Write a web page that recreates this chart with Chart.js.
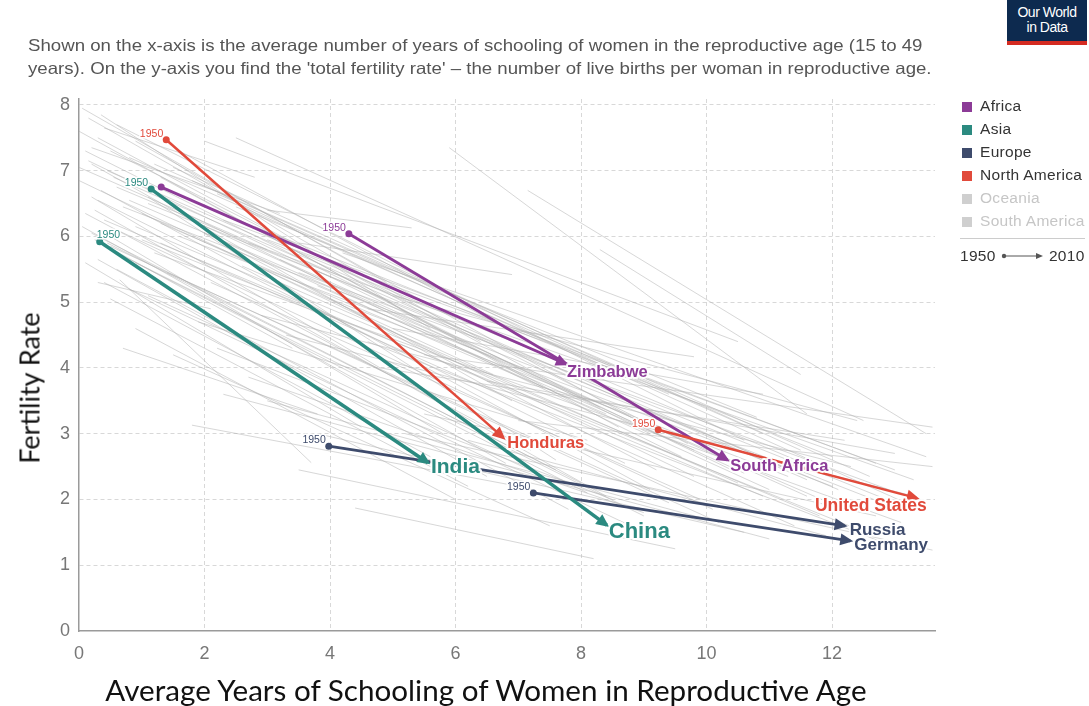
<!DOCTYPE html>
<html>
<head>
<meta charset="utf-8">
<script src="https://cdn.jsdelivr.net/npm/chart.js@4.4.1/dist/chart.umd.min.js"></script>
<style>
  body { margin: 0; background: #fff; font-family: 'Liberation Sans', Arial, sans-serif; }
  #page { position: relative; width: 1089px; height: 706px; overflow: hidden; }
  #chartBox { position: absolute; left: 0; top: 0; width: 1089px; height: 706px; }
  .subtitle { position: absolute; left: 28px; top: 34px; font-size: 16.5px; line-height: 23px; color: #555; white-space: nowrap; transform: scaleX(1.13); transform-origin: left top; }
  .ytitle { position: absolute; left: 29px; top: 388px; transform: translate(-50%, -50%) rotate(-90deg); font-family: Lato, sans-serif; font-size: 27px; color: #111; white-space: nowrap; }
  .xtitle { position: absolute; left: 486px; top: 690px; transform: translate(-50%, -50%) scaleX(1.058); font-family: Lato, sans-serif; font-size: 28px; color: #111; white-space: nowrap; }
  .legend { position: absolute; left: 960px; top: 96px; font-size: 15.5px; color: #333; letter-spacing: 0.3px; }
  .legend .li { height: 23px; line-height: 20px; white-space: nowrap; }
  .legend .sw { display: inline-block; width: 10px; height: 10px; margin: 0 8px 0 2px; vertical-align: -1px; }
  .legend .off { color: #c6c6c6; }
  .legend .sep { width: 125px; border-top: 1px solid #ccc; margin: 4px 0 8px 0; }
  .legend .time { font-size: 15.5px; color: #333; white-space: nowrap; }
  .logo { position: absolute; left: 1007px; top: 0; width: 80px; height: 36px; background: #0d2a4f; border-bottom: 4px solid #d42b21; color: #fff; font-size: 14px; line-height: 15px; text-align: center; padding-top: 5px; letter-spacing: -0.5px; }
</style>
</head>
<body>
<div id="page">
  <div id="chartBox"><canvas id="chart" width="1089" height="706"></canvas></div>
  <div class="subtitle">Shown on the x-axis is the average number of years of schooling of women in the reproductive age (15 to 49<br>years). On the y-axis you find the 'total fertility rate' – the number of live births per woman in reproductive age.</div>
  <div class="ytitle">Fertility Rate</div>
  <div class="xtitle">Average Years of Schooling of Women in Reproductive Age</div>
  <div class="logo">Our World<br>in Data</div>
  <div class="legend">
    <div class="li"><span class="sw" style="background:#8c3b97"></span>Africa</div>
    <div class="li"><span class="sw" style="background:#2b8a80"></span>Asia</div>
    <div class="li"><span class="sw" style="background:#3e4b6c"></span>Europe</div>
    <div class="li"><span class="sw" style="background:#e14a3b"></span>North America</div>
    <div class="li off"><span class="sw" style="background:#cfcfcf"></span>Oceania</div>
    <div class="li off"><span class="sw" style="background:#cfcfcf"></span>South America</div>
    <div class="sep"></div>
    <div class="time">1950 <svg width="44" height="10" style="vertical-align:0px"><circle cx="4" cy="5" r="2.2" fill="#555"/><line x1="4" y1="5" x2="37" y2="5" stroke="#555" stroke-width="1"/><polygon points="36,2 43,5 36,8" fill="#555"/></svg> 2010</div>
  </div>
</div>
<script>
// highlighted countries: 1950 start -> 2010 end
const countries = ['Honduras', 'United States', 'Zimbabwe', 'South Africa', 'India', 'China', 'Russia', 'Germany'];
const regions = ['North America', 'North America', 'Africa', 'Africa', 'Asia', 'Asia', 'Europe', 'Europe'];
const school1950 = [1.39, 9.23, 1.31, 4.30, 0.33, 1.15, 3.98, 7.24];
const fert1950 = [7.47, 3.06, 6.75, 6.04, 5.92, 6.72, 2.81, 2.10];
const school2010 = [6.76, 13.35, 7.76, 10.33, 5.56, 8.41, 12.20, 12.29];
const fert2010 = [2.94, 2.02, 4.06, 2.60, 2.56, 1.61, 1.60, 1.37];
const show1950Label = [true, true, false, true, true, true, true, true];

// all other countries (grey)
const greySchool1950 = [0.05, 0.15, 0.0, 0.3, 0.1, 0.6, 0.2, 0.45, 0.0, 0.6, 0.3, 0.1, 0.7, 0.4, 0.2, 0.9, 0.5, 0.3, 1.0, 0.6,
  0.4, 1.2, 0.8, 0.5, 1.4, 0.2, 1.5, 1.8, 2.2, 1.7, 2.5, 2.0, 2.8, 2.4, 3.0, 2.6, 3.2, 3.5, 3.8, 4.2,
  4.0, 3.0, 3.5, 5.9, 7.15, 8.3, 4.6, 5.0, 0.65, 1.8, 2.2, 2.7, 3.0, 3.5, 4.4, 5.2, 1.1, 1.3, 0.8, 0.35,
  1.6, 2.0, 2.5, 0.9, 1.5, 2.3, 5.5, 6.5, 7.0, 4.8, 5.5, 6.2, 3.8, 0.2, 0.5, 0.1, 1.1, 1.9, 2.1, 0.0,
  0.4, 0.25, 1.0, 1.3, 2.9, 4.6, 3.3, 5.0, 0.7, 0.3, 0.15, 0.55, 0.35, 0.8, 0.25, 1.1, 0.6, 0.45, 1.3, 0.7,
  1.6, 1.9, 2.3, 0.5, 0.9, 1.2, 0.05, 0.9, 2.7, 3.4];
const greyFert1950 = [7.95, 7.8, 7.6, 7.5, 7.3, 7.7, 7.1, 7.0, 6.85, 6.75, 6.55, 6.35, 6.45, 6.25, 6.05, 6.15, 5.85, 5.65, 5.95, 5.5,
  5.3, 5.75, 5.2, 5.05, 5.45, 7.35, 7.05, 6.85, 6.65, 6.35, 6.45, 6.05, 6.15, 5.85, 5.95, 5.55, 5.65, 5.45, 5.25, 5.75,
  5.05, 6.4, 5.9, 7.35, 6.7, 5.8, 4.9, 4.6, 5.34, 3.13, 4.3, 3.86, 3.5, 2.45, 1.87, 3.0, 6.6, 6.9, 7.2, 7.85,
  7.3, 7.45, 7.5, 4.6, 4.2, 3.6, 4.2, 3.8, 3.2, 4.0, 3.3, 2.9, 3.0, 6.6, 6.0, 5.6, 5.1, 4.7, 5.3, 7.05,
  7.65, 5.95, 6.35, 6.2, 4.8, 4.4, 4.5, 5.1, 4.3, 5.3, 7.15, 6.9, 6.7, 6.55, 6.4, 6.5, 6.1, 5.9, 5.9, 5.7,
  6.0, 6.2, 6.25, 7.3, 7.45, 7.1, 6.15, 5.6, 5.9, 5.8];
const greySchool2010 = [4.9, 6.4, 7.4, 8.3, 9.1, 10.6, 6.9, 11.2, 9.8, 12.1, 8.7, 7.2, 12.8, 10.9, 8.0, 11.8, 9.4, 6.5, 12.4, 7.8,
  5.6, 13.1, 8.9, 6.2, 10.2, 3.2, 11.5, 12.6, 13.4, 9.6, 10.8, 11.0, 12.0, 9.2, 13.0, 10.5, 11.6, 12.9, 9.8, 13.5,
  11.3, 5.3, 6.9, 11.6, 13.5, 11.5, 9.8, 10.9, 3.7, 7.0, 8.5, 9.0, 10.0, 9.5, 8.2, 13.6, 7.6, 8.6, 9.4, 5.6,
  7.0, 10.5, 12.5, 6.0, 7.5, 11.0, 13.6, 13.0, 13.6, 12.2, 12.7, 11.9, 10.6, 4.8, 5.8, 4.5, 7.3, 8.1, 9.9, 3.0,
  2.8, 3.4, 6.6, 8.4, 12.3, 12.8, 13.3, 12.4, 3.8, 2.1, 10.4, 11.6, 9.1, 12.2, 8.4, 13.0, 10.1, 7.6, 11.4, 9.0,
  12.0, 10.6, 12.7, 9.7, 8.8, 10.9, 6.8, 8.1, 13.3, 11.8];
const greyFert2010 = [5.3, 4.4, 3.7, 3.4, 3.0, 2.9, 3.5, 2.5, 2.35, 2.15, 2.55, 2.75, 1.95, 2.05, 2.25, 1.75, 1.95, 2.35, 1.55, 1.85,
  2.65, 1.65, 1.55, 2.2, 1.65, 6.35, 2.75, 2.35, 1.85, 2.65, 3.25, 2.15, 2.65, 2.45, 2.45, 2.25, 2.05, 2.15, 2.75, 2.65,
  2.35, 6.13, 5.42, 3.3, 3.0, 3.9, 4.17, 3.6, 2.56, 2.2, 2.0, 1.8, 1.7, 1.25, 1.1, 1.23, 2.6, 3.1, 3.6, 4.6,
  4.5, 4.4, 3.2, 2.0, 1.6, 1.4, 3.1, 2.7, 2.5, 2.9, 1.75, 1.45, 1.5, 4.0, 3.0, 3.1, 2.4, 2.9, 2.0, 5.8,
  6.9, 4.3, 3.9, 3.3, 2.5, 1.35, 2.05, 3.2, 3.3, 4.9, 2.45, 2.3, 2.15, 1.85, 2.05, 1.95, 1.85, 2.45, 1.6, 1.75,
  2.2, 2.4, 2.55, 2.85, 3.25, 3.0, 2.55, 2.1, 2.3, 2.45];

// axis ticks
const xTicks = [0, 2, 4, 6, 8, 10, 12];
const yTicks = [0, 1, 2, 3, 4, 5, 6, 7, 8];

const regionColors = {
  'Africa': '#8c3b97',
  'Asia': '#2b8a80',
  'Europe': '#3e4b6c',
  'North America': '#e14a3b'
};
const lineWidths = [2.5, 2.5, 2.8, 2.8, 3.6, 3.6, 2.8, 2.8];
// label styling: [dx, dy, fontSize, align]
const labelStyle = [[4, 6, 16.5, 'left'], [10, 8, 17.5, 'right'], [1, 8, 16.5, 'left'], [3, 6, 16.5, 'left'],
  [3, 5, 21, 'left'], [2, 7, 22, 'left'], [5, 5, 17, 'left'], [4, 4, 17, 'left']];

const datasets = [];
for (let i = 0; i < greySchool1950.length; i++) {
  datasets.push({
    data: [{ x: greySchool1950[i], y: greyFert1950[i] }, { x: greySchool2010[i], y: greyFert2010[i] }],
    borderColor: 'rgba(175,175,175,0.5)',
    borderWidth: 1,
    pointRadius: 0,
    showLine: true,
    order: 2
  });
}
countries.forEach((name, i) => {
  const color = regionColors[regions[i]];
  datasets.push({
    label: name,
    highlight: i,
    data: [{ x: school1950[i], y: fert1950[i] }, { x: school2010[i], y: fert2010[i] }],
    borderColor: color,
    borderWidth: lineWidths[i],
    pointRadius: [3.5, 0],
    pointBackgroundColor: color,
    pointBorderWidth: 0,
    showLine: true,
    order: 1
  });
});

const arrowPlugin = {
  id: 'arrows',
  afterDatasetsDraw(chart) {
    const ctx = chart.ctx;
    chart.data.datasets.forEach((ds, di) => {
      if (ds.highlight === undefined) return;
      const meta = chart.getDatasetMeta(di);
      const p0 = meta.data[0], p1 = meta.data[1];
      const ang = Math.atan2(p1.y - p0.y, p1.x - p0.x);
      const tipX = p1.x + Math.cos(ang) * 3, tipY = p1.y + Math.sin(ang) * 3;
      const len = 13, half = 6;
      ctx.save();
      ctx.fillStyle = ds.borderColor;
      ctx.beginPath();
      ctx.moveTo(tipX, tipY);
      ctx.lineTo(tipX - Math.cos(ang) * len - Math.sin(ang) * half, tipY - Math.sin(ang) * len + Math.cos(ang) * half);
      ctx.lineTo(tipX - Math.cos(ang) * len + Math.sin(ang) * half, tipY - Math.sin(ang) * len - Math.cos(ang) * half);
      ctx.closePath();
      ctx.fill();
      ctx.restore();
    });
    // labels on top of all lines
    chart.data.datasets.forEach((ds, di) => {
      if (ds.highlight === undefined) return;
      const i = ds.highlight;
      const meta = chart.getDatasetMeta(di);
      const p0 = meta.data[0], p1 = meta.data[1];
      const st = labelStyle[i];
      ctx.save();
      ctx.font = 'bold ' + st[2] + 'px "Liberation Sans", Arial, sans-serif';
      ctx.textAlign = st[3];
      ctx.textBaseline = 'middle';
      ctx.lineJoin = 'round';
      ctx.strokeStyle = 'rgba(255,255,255,0.95)';
      ctx.lineWidth = 4;
      ctx.strokeText(countries[i], p1.x + st[0], p1.y + st[1]);
      ctx.fillStyle = ds.borderColor;
      ctx.fillText(countries[i], p1.x + st[0], p1.y + st[1]);
      if (show1950Label[i]) {
        ctx.font = '10.5px "Liberation Sans", Arial, sans-serif';
        ctx.lineWidth = 3;
        let lx = p0.x - 3, ly = p0.y - 6;
        if (countries[i] === 'India') { ctx.textAlign = 'left'; ly = p0.y - 7; }
        else ctx.textAlign = 'right';
        ctx.strokeText('1950', lx, ly);
        ctx.fillText('1950', lx, ly);
      }
      ctx.restore();
    });
  }
};

const tickFont = { family: '"Liberation Sans", Arial, sans-serif', size: 18 };
const gridColor = c => (c.tick && c.tick.value === 0) ? 'rgba(0,0,0,0)' : '#d8d8d8';

new Chart(document.getElementById('chart'), {
  type: 'scatter',
  data: { datasets },
  options: {
    responsive: false,
    animation: false,
    layout: { padding: { top: 99, right: 154, left: 0, bottom: 0 } },
    plugins: { legend: { display: false }, tooltip: { enabled: false } },
    scales: {
      x: {
        type: 'linear',
        min: 0,
        max: 13.64,
        afterBuildTicks: s => { s.ticks = xTicks.map(v => ({ value: v })); },
        afterFit: s => { s.height = 75; },
        grid: { color: gridColor, drawTicks: false, lineWidth: 1 },
        border: { display: true, color: '#9a9a9a', width: 1.5, dash: [4, 3] },
        ticks: { padding: 12, color: '#777', font: tickFont }
      },
      y: {
        type: 'linear',
        min: 0,
        max: 8.09,
        afterBuildTicks: s => { s.ticks = yTicks.map(v => ({ value: v })); },
        afterFit: s => { s.width = 79; },
        grid: { color: gridColor, drawTicks: false, lineWidth: 1 },
        border: { display: true, color: '#9a9a9a', width: 1.5, dash: [4, 3] },
        ticks: { padding: 9, color: '#777', font: tickFont }
      }
    }
  },
  plugins: [arrowPlugin]
});
</script>
</body>
</html>
